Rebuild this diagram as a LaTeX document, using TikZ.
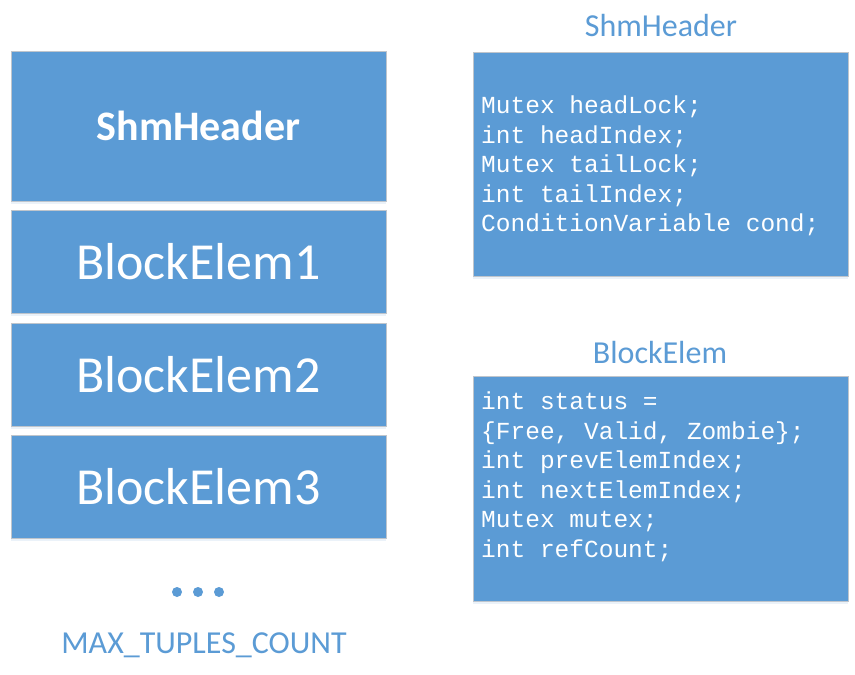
\documentclass[tikz,border=0pt]{standalone}
\usepackage{fontspec}
\setmainfont{Carlito}
\setmonofont{Liberation Mono}
\usetikzlibrary{shadows}
\definecolor{boxblue}{HTML}{5B9BD5}
\definecolor{boxline}{HTML}{BFC5CC}
\tikzset{
  block/.style={rectangle, draw=boxline, fill=boxblue, line width=1pt,
    minimum width=375pt, inner sep=0pt, outer sep=0pt, text=white,
    drop shadow={shadow xshift=0pt, shadow yshift=-3pt, opacity=.12, fill=boxblue}},
  code/.style={anchor=north west, inner sep=0pt, align=left, text=white,
    font=\ttfamily\fontsize{24.5}{29.5}\selectfont},
  title/.style={text=boxblue, inner sep=0pt, font=\fontsize{32}{38}\selectfont},
  dot/.style={circle, fill=boxblue, inner sep=0pt, minimum size=10pt},
}
\begin{document}
\begin{tikzpicture}[x=1pt,y=-1pt]
\fill[white] (0,0) rectangle (855,675);
% Define the nodes
\node[block, minimum height=150pt, font=\bfseries\fontsize{42}{50}\selectfont] at (198.5,126) (shm) {ShmHeader};
\node[block, minimum height=103pt, font=\fontsize{52}{62}\selectfont] at (198.5,261.5) (elem1) {BlockElem1};
\node[block, minimum height=103pt, font=\fontsize{52}{62}\selectfont] at (198.5,374.5) (elem2) {BlockElem2};
\node[block, minimum height=103pt, font=\fontsize{52}{62}\selectfont] at (198.5,486.5) (elem3) {BlockElem3};
\foreach \x in {177,198,219}
  \node[dot] at (\x,592) (dot\x) {};
\node[title] at (204,645) (maxcount) {MAX\_TUPLES\_COUNT};
% Right side
\node[title] at (661,26) (shmtitle) {ShmHeader};
\node[block, minimum height=224pt] at (660.5,164) (shmbox) {};
\node[code] at (481,96) (shmcode) {Mutex headLock;\\int headIndex;\\Mutex tailLock;\\int tailIndex;\\ConditionVariable cond;};
\node[title] at (660,352) (elemtitle) {BlockElem};
\node[block, minimum height=225pt] at (660.5,488.5) (elembox) {};
\node[code] at (481,392) (elemcode) {int status =\\\{Free, Valid, Zombie\};\\int prevElemIndex;\\int nextElemIndex;\\Mutex mutex;\\int refCount;};
\end{tikzpicture}
\end{document}
